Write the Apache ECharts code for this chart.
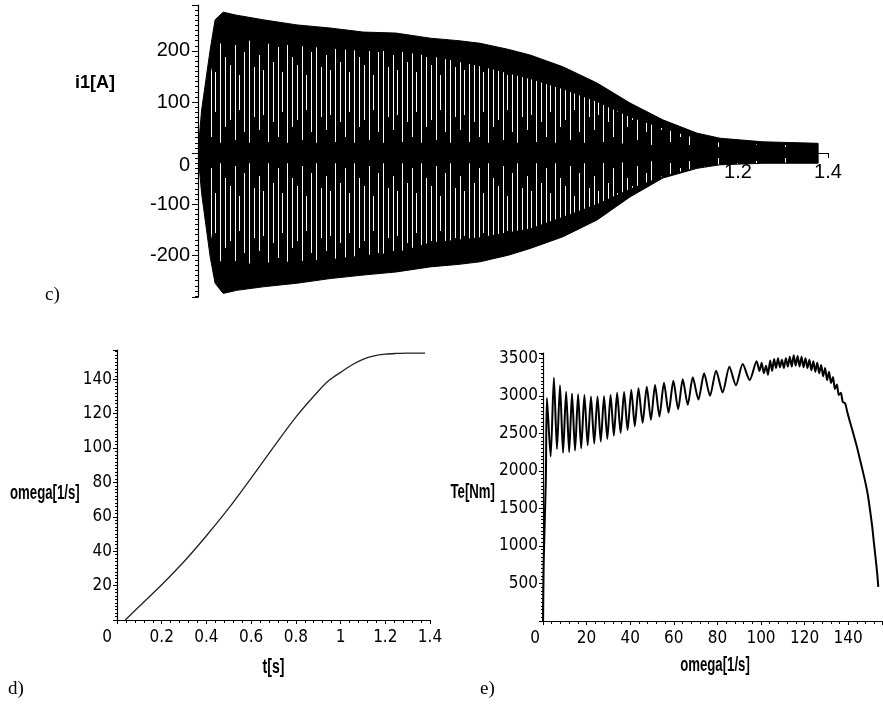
<!DOCTYPE html>
<html>
<head>
<meta charset="utf-8">
<script src="https://cdn.jsdelivr.net/npm/echarts@6/dist/echarts.min.js"></script>
<style>
html,body{margin:0;padding:0;background:#fff;}
#chart{width:883px;height:709px;}
</style>
</head>
<body>
<div id="chart"></div>
<script>
// ---- panel c) stator current i1(t): envelope of the dense 50 Hz oscillation ----
const tI     = [0, 0.008, 0.027, 0.038, 0.056, 0.086, 0.145, 0.22, 0.293, 0.367, 0.44, 0.516, 0.58, 0.627, 0.69, 0.738, 0.811, 0.887, 0.96, 1.033, 1.109, 1.16, 1.256, 1.378];
const iUpper = [0, 84, 202, 261, 276, 270, 261, 251, 245, 237, 235, 225, 220, 215, 203, 192, 169, 137, 98, 65, 39, 29, 22, 19];
const iLower = [0, -79, -203, -255, -275, -269, -262, -255, -246, -239, -233, -223, -218, -213, -200, -187, -164, -131, -86, -49, -30, -23, -20, -20];
// zones where the aliased (white-streaked) part of the oscillation is visible
const tS      = [0.027, 0.038, 0.056, 0.086, 0.145, 0.22, 0.293, 0.367, 0.44, 0.516, 0.627, 0.738, 0.811, 0.887, 0.96, 1.033, 1.109, 1.16, 1.256, 1.378];
const upOuter = [150, 200, 222, 225, 215, 210, 205, 200, 200, 190, 170, 145, 125, 100, 70, 48, 28, 20, 16, 14];
const upInner = [20, 20, 20, 20, 20, 20, 20, 20, 20, 20, 20, 20, 20, 20, 18, 15, 12, 10, 8, 8];
const loInner = [-20, -20, -20, -20, -20, -20, -20, -20, -20, -20, -20, -20, -20, -20, -18, -15, -12, -9, -7, -6];
const loOuter = [-150, -200, -218, -218, -215, -212, -208, -200, -195, -175, -165, -148, -125, -100, -70, -45, -28, -22, -19, -18];

// ---- panel d) omega(t) ----
const tD     = [0.037, 0.1, 0.2, 0.3, 0.4, 0.5, 0.6, 0.7, 0.8, 0.9, 0.95, 1.0, 1.05, 1.1, 1.15, 1.2, 1.25, 1.3, 1.378];
const omegaD = [0, 8, 20.5, 34, 49, 65, 82.5, 100.5, 118, 133, 139.5, 144, 148.3, 151.6, 153.6, 154.6, 155, 155.2, 155.2];

// ---- panel e) Te(omega) ----
const omegaE = [0, 0.3, 1.3, 1.8, 3.5, 5.0, 6.4, 7.8, 9.2, 10.6, 12.0, 13.3, 14.7, 16.1, 17.5, 19.0, 20.5, 22.0, 23.5, 25.0, 26.5, 28.0, 29.5, 31.0, 32.5, 34.0, 35.6, 37.2, 38.8, 40.5, 42.1, 43.8, 45.7, 47.6, 49.5, 51.4, 53.4, 55.5, 57.6, 59.8, 62.0, 64.1, 66.4, 68.7, 71.3, 73.9, 76.6, 79.4, 82.4, 85.5, 88.5, 91.6, 94.8,
  98.0, 99.3, 100.3, 101.3, 102.3, 103.2, 104.2, 105.1, 106.0, 106.9, 107.8, 108.7, 109.6, 110.5, 111.4, 112.3, 113.2, 114.1, 115.0, 115.9, 116.8, 117.7, 118.6, 119.5, 120.4, 121.3, 122.2, 123.1, 124.0, 124.9, 125.8, 126.7, 127.6, 128.5, 129.4, 130.3, 131.2, 132.1, 133.0, 133.9, 134.8, 135.7, 136.6, 137.5, 138.6, 139.6,
  140.8, 142.3, 143.9, 145.4, 146.9, 148.0, 149.0, 150.0, 151.0, 151.8, 152.6, 153.3, 153.8];
const teE = [0, 770, 1880, 2970, 2190, 3240, 2290, 3140, 2240, 3054, 2250, 3032, 2270, 3020, 2300, 3010, 2340, 2990, 2365, 2990, 2390, 2995, 2425, 3010, 2470, 3040, 2505, 3050, 2545, 3077, 2595, 3099, 2640, 3121, 2680, 3143, 2725, 3174, 2775, 3201, 2820, 3219, 2880, 3246, 2950, 3299, 3000, 3334, 3045, 3387, 3140, 3423, 3210,
  3460, 3330, 3440, 3300, 3400, 3280, 3470, 3330, 3490, 3370, 3500, 3380, 3480, 3370, 3500, 3390, 3520, 3390, 3540, 3400, 3530, 3390, 3520, 3380, 3500, 3370, 3480, 3340, 3460, 3320, 3440, 3300, 3410, 3260, 3370, 3210, 3320, 3170, 3250, 3090, 3150, 3010, 3040, 2920, 2900, 2780,
  2655, 2500, 2330, 2150, 1970, 1830, 1680, 1480, 1260, 1040, 830, 630, 455];

// ---------------------------------------------------------------
const narrow = "'Liberation Sans Narrow','DejaVu Sans Condensed','Liberation Sans',sans-serif";
const serif = "'Liberation Serif','DejaVu Serif',serif";
const sans = "'Liberation Sans',Arial,sans-serif";

// streak texture used to imitate the aliased oscillation
function makeStreakPattern() {
  const c = document.createElement('canvas');
  c.width = 67; c.height = 121;
  const g = c.getContext('2d');
  g.fillStyle = '#000'; g.fillRect(0, 0, c.width, c.height);
  const xs = [0, 5, 10, 14, 19, 24, 29, 34, 38, 43, 48, 53, 58, 62];
  const ls = [100, 60, 90, 40, 105, 70, 55, 95, 35, 80, 110, 50, 75, 45];
  g.fillStyle = '#ffffff';
  for (let k = 0; k < xs.length; k++) {
    const y0 = 92 - ls[k] / 2;
    for (let y = 0; y < ls[k]; y++) {
      const yy = ((Math.round(y0 + y) % 121) + 121) % 121;
      g.fillRect(xs[k], yy, 1, 1);
    }
  }
  return c;
}
const streakImg = makeStreakPattern();

const axisLineStyle = { color: '#000', width: 1.2 };
const tickStyle = { color: '#000', width: 1 };

const chart = echarts.init(document.getElementById('chart'), null, { renderer: 'canvas' });

function title(text, x, y, align, sx) {
  return {
    type: 'text', x: x, y: y, scaleX: sx,
    style: {
      text: text, fontFamily: sans, fontWeight: 'bold', fontSize: 20, fill: '#000',
      align: align, verticalAlign: 'middle', textAlign: align, textVerticalAlign: 'middle'
    }
  };
}

// one closed outline (upper edge forward, lower edge back) through the axes' scale
function bandPoints(api, ts, top, bottom) {
  const pts = [];
  for (let i = 0; i < ts.length; i++) pts.push(api.coord([ts[i], top[i]]));
  for (let i = ts.length - 1; i >= 0; i--) pts.push(api.coord([ts[i], bottom[i]]));
  return pts;
}

const option = {
  backgroundColor: '#fff',
  animation: false,
  grid: [
    { left: 198, top: 5, width: 630, height: 292, outerBoundsMode: 'none', containLabel: false },
    { left: 117, top: 350, width: 313, height: 270, outerBoundsMode: 'none', containLabel: false },
    { left: 543, top: 353, width: 339, height: 268, outerBoundsMode: 'none', containLabel: false }
  ],
  xAxis: [
    {
      gridIndex: 0, type: 'value', min: 0, max: 1.4, interval: 0.2,
      position: 'bottom', offset: -144,
      axisLine: { show: true, onZero: false, lineStyle: axisLineStyle },
      axisTick: { show: true, length: 5, lineStyle: tickStyle },
      minorTick: { show: true, splitNumber: 4, length: 3, lineStyle: tickStyle },
      splitLine: { show: false },
      axisLabel: {
        color: '#000', fontFamily: sans, fontSize: 20, margin: 9,
        formatter: v => (v >= 1.19 ? (Math.round(v * 10) / 10).toString() : '')
      }
    },
    {
      gridIndex: 1, type: 'value', min: 0, max: 1.4, interval: 0.2,
      axisLine: { show: true, onZero: false, lineStyle: axisLineStyle },
      axisTick: { show: true, length: 4, lineStyle: tickStyle },
      minorTick: { show: true, splitNumber: 5, length: 3, lineStyle: tickStyle },
      splitLine: { show: false },
      axisLabel: {
        color: '#000', fontFamily: narrow, fontSize: 17, margin: 9,
        formatter: v => (v === 0 ? '{z|0}' : (Math.round(v * 10) / 10).toString()),
        rich: { z: { fontFamily: narrow, fontSize: 17, color: '#000', padding: [0, 20, 0, 0] } }
      }
    },
    {
      gridIndex: 2, type: 'value', min: 0, max: 155.5, interval: 20,
      axisLine: { show: true, onZero: false, lineStyle: axisLineStyle },
      axisTick: { show: true, length: 4, lineStyle: tickStyle },
      minorTick: { show: true, splitNumber: 5, length: 3, lineStyle: tickStyle },
      splitLine: { show: false },
      axisLabel: {
        color: '#000', fontFamily: narrow, fontSize: 17, margin: 9, showMaxLabel: false,
        formatter: v => (v === 0 ? '{z|0}' : (v % 20 === 0 ? String(v) : '')),
        rich: { z: { fontFamily: narrow, fontSize: 17, color: '#000', padding: [0, 16, 0, 0] } }
      }
    }
  ],
  yAxis: [
    {
      gridIndex: 0, type: 'value', min: -282, max: 290,
      axisLine: { show: true, onZero: false, lineStyle: axisLineStyle },
      axisTick: { show: true, length: 6, lineStyle: tickStyle },
      minorTick: { show: true, splitNumber: 10, length: 3, lineStyle: tickStyle },
      splitLine: { show: false },
      axisLabel: {
        color: '#000', fontFamily: sans, fontSize: 20, margin: 8,
        formatter: v => (v === 0 ? '{z|0}' : (v % 100 === 0 ? String(v) : '')),
        rich: { z: { fontFamily: sans, fontSize: 20, color: '#000', padding: [24, 0, 0, 0] } }
      }
    },
    {
      gridIndex: 1, type: 'value', min: 0, max: 157, interval: 20,
      axisLine: { show: true, onZero: false, lineStyle: axisLineStyle },
      axisTick: { show: true, length: 4, lineStyle: tickStyle },
      minorTick: { show: true, splitNumber: 10, length: 2, lineStyle: tickStyle },
      splitLine: { show: false },
      axisLabel: {
        color: '#000', fontFamily: narrow, fontSize: 17, margin: 5, showMaxLabel: false,
        formatter: v => (v === 0 ? '' : (v % 20 === 0 ? String(v) : ''))
      }
    },
    {
      gridIndex: 2, type: 'value', min: 0, max: 3570, interval: 500,
      axisLine: { show: true, onZero: false, lineStyle: axisLineStyle },
      axisTick: { show: true, length: 4, lineStyle: tickStyle },
      minorTick: { show: true, splitNumber: 10, length: 2, lineStyle: tickStyle },
      splitLine: { show: false },
      axisLabel: {
        color: '#000', fontFamily: narrow, fontSize: 17, margin: 5, showMaxLabel: false,
        formatter: v => (v === 0 ? '' : (v % 500 === 0 ? String(v) : ''))
      }
    }
  ],
  series: [
    {
      // solid black envelope of the oscillating current (one outline, no seams)
      type: 'custom', xAxisIndex: 0, yAxisIndex: 0, clip: true, z: 3,
      data: tI.map((t, i) => [t, iUpper[i], iLower[i]]),
      encode: { x: 0, y: [1, 2] },
      renderItem: function (params, api) {
        if (params.dataIndex !== 0) return null;
        return {
          type: 'polygon',
          shape: { points: bandPoints(api, tI, iUpper, iLower) },
          style: { fill: '#000', stroke: '#000', lineWidth: 1 }
        };
      }
    },
    {
      // aliased streaks inside the envelope
      type: 'custom', xAxisIndex: 0, yAxisIndex: 0, clip: true, z: 4, silent: true,
      data: tS.map((t, i) => [t, upOuter[i], upInner[i], loInner[i], loOuter[i]]),
      encode: { x: 0, y: [1, 4] },
      renderItem: function (params, api) {
        if (params.dataIndex !== 0) return null;
        const fill = { image: streakImg, repeat: 'repeat' };
        return {
          type: 'group',
          children: [
            { type: 'polygon', shape: { points: bandPoints(api, tS, upOuter, upInner) }, style: { fill: fill } },
            { type: 'polygon', shape: { points: bandPoints(api, tS, loInner, loOuter) }, style: { fill: fill } }
          ]
        };
      }
    },
    {
      type: 'line', xAxisIndex: 1, yAxisIndex: 1,
      data: tD.map((t, i) => [t, omegaD[i]]),
      showSymbol: false, smooth: 0.3,
      lineStyle: { color: '#222', width: 1.3 }
    },
    {
      type: 'line', xAxisIndex: 2, yAxisIndex: 2,
      data: omegaE.map((w, i) => [w, teE[i]]),
      showSymbol: false, smooth: 0.25,
      lineStyle: { color: '#000', width: 2 }
    }
  ],
  graphic: [
    { type: 'text', left: 75, top: 74, style: { text: 'i1[A]', fontFamily: sans, fontWeight: 'bold', fontSize: 18, fill: '#000' } },
    title('omega[1/s]', 10, 493, 'left', 0.66),
    title('t[s]', 273.5, 667, 'center', 0.7),
    title('Te[Nm]', 495, 492, 'right', 0.66),
    title('omega[1/s]', 715, 665, 'center', 0.66),
    { type: 'text', left: 45, top: 286, style: { text: 'c)', fontFamily: serif, fontSize: 19, fill: '#000' } },
    { type: 'text', left: 8, top: 680, style: { text: 'd)', fontFamily: serif, fontSize: 19, fill: '#000' } },
    { type: 'text', left: 480, top: 680, style: { text: 'e)', fontFamily: serif, fontSize: 19, fill: '#000' } }
  ]
};

chart.setOption(option);
</script>
</body>
</html>
